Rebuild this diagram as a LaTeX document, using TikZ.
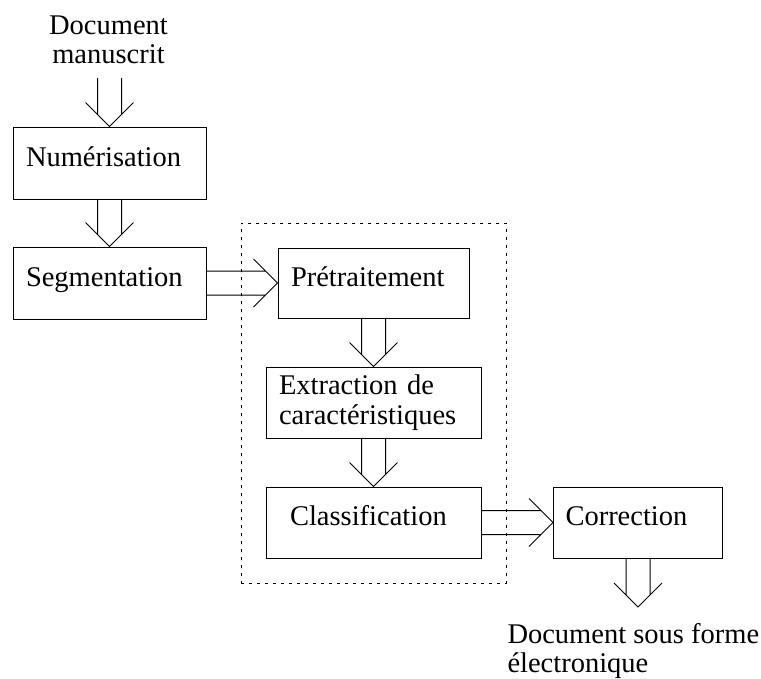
\documentclass[tikz,border=0pt]{standalone}
\usepackage{fontspec}
\setmainfont{Liberation Serif}
\usetikzlibrary{fit}

\tikzset{
  box/.style={draw, align=left, inner xsep=13pt, inner ysep=0pt, text height=19pt, text depth=13pt},
  frame/.style={draw, dash pattern=on 3pt off 5pt, inner sep=24.5pt},
  hollow down/.style={to path={
    ([xshift=-12pt]\tikztotarget |- \tikztostart) -- ([xshift=-12pt,yshift=12pt]\tikztotarget)
    ([xshift=12pt]\tikztotarget |- \tikztostart) -- ([xshift=12pt,yshift=12pt]\tikztotarget)
    ([xshift=-24pt,yshift=24pt]\tikztotarget) -- (\tikztotarget) -- ([xshift=24pt,yshift=24pt]\tikztotarget)}},
  hollow right/.style={to path={
    ([yshift=12pt]\tikztotarget -| \tikztostart) -- ([xshift=-12pt,yshift=12pt]\tikztotarget)
    ([yshift=-12pt]\tikztotarget -| \tikztostart) -- ([xshift=-12pt,yshift=-12pt]\tikztotarget)
    ([xshift=-24pt,yshift=24pt]\tikztotarget) -- (\tikztotarget) -- ([xshift=-24pt,yshift=-24pt]\tikztotarget)}}
}

\begin{document}
\begin{tikzpicture}[x=1pt, y=1pt, line width=1pt, font=\fontsize{28.5}{29.5}\selectfont]
  \useasboundingbox (0,0) rectangle (761,-678);

  % boxes
  \node[box, text width=167pt, minimum height=72pt] (num) at (109.5,-163) {Numérisation};
  \node[box, text width=167pt, minimum height=72pt] (seg) at (109.5,-283) {Segmentation};
  \node[box, text width=165pt, minimum height=70pt] (pre) at (373.5,-283) {Prétraitement};
  \node[box, text width=189pt, minimum height=71pt, text height=, text depth=] (ext) at (373.5,-402.5) {Extraction de\\caractéristiques};
  \node[box, inner xsep=24pt, text width=167pt, minimum height=71pt] (cla) at (373.5,-522.5) {Classification};
  \node[box, inner xsep=12pt, text width=145pt, minimum height=71pt] (cor) at (638,-522.5) {Correction};
  \node[frame, fit=(pre)(ext)(cla)] (grp) {};

  % input and output
  \node[align=center, anchor=north, inner sep=0pt] (doc) at (108.5,-15) {Document\\manuscrit};
  \node[align=left, anchor=north west, inner sep=0pt] (elec) at (507,-622.5) {Document sous forme\\électronique};
  \coordinate (in) at (109.5,-78);
  \coordinate (out) at (638,-607);

  \path
  (in) edge[hollow down] (num.north)
  (num.south) edge[hollow down] (seg.north)
  (seg.east) edge[hollow right] (pre.west)
  (pre.south) edge[hollow down] (ext.north)
  (ext.south) edge[hollow down] (cla.north)
  (cla.east) edge[hollow right] (cor.west)
  (cor.south) edge[hollow down] (out)
  ;
\end{tikzpicture}
\end{document}
